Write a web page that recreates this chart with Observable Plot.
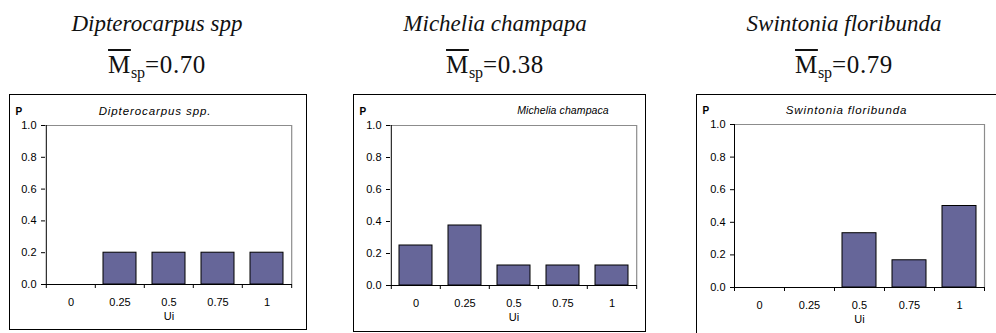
<!DOCTYPE html>
<html><head><meta charset="utf-8">
<script src="https://cdn.jsdelivr.net/npm/d3@7"></script>
<script src="https://cdn.jsdelivr.net/npm/@observablehq/plot@0.6"></script>
<style>
html,body{margin:0;padding:0;background:#fff;}
body{width:996px;height:333px;overflow:hidden;position:relative;font-family:"Liberation Sans",Arial,sans-serif;}
.t1{position:absolute;font-family:"Liberation Serif","Times New Roman","DejaVu Serif",serif;font-style:italic;font-size:23px;line-height:23px;text-align:center;white-space:nowrap;color:#111;}
.t2{position:absolute;font-family:"Liberation Serif","Times New Roman","DejaVu Serif",serif;font-size:25px;line-height:25px;text-align:center;white-space:nowrap;letter-spacing:0.6px;color:#111;}
.t2 .m{text-decoration:overline;text-decoration-thickness:1.5px;}
.t2 sub{font-size:16px;vertical-align:-5px;line-height:0;letter-spacing:0;}
</style></head><body>
<script>
// Data
const ui = ["0", "0.25", "0.5", "0.75", "1"];
const dipterocarpusP = [0, 0.2, 0.2, 0.2, 0.2];
const micheliaP = [0.25, 0.375, 0.125, 0.125, 0.125];
const swintoniaP = [0, 0, 0.333, 0.167, 0.5];
const yTicks = [0, 0.2, 0.4, 0.6, 0.8, 1.0];
const titles = ["Dipterocarpus spp", "Michelia champapa", "Swintonia floribunda"];
const meanM = ["0.70", "0.38", "0.79"];
const innerTitles = ["Dipterocarpus spp.", "Michelia champaca", "Swintonia floribunda"];
const series = [dipterocarpusP, micheliaP, swintoniaP];

// Layout
const layout = [
  {left: 9, top: 94, w: 296, h: 234, ml: 35, mr: 14, mt: 30, mb: 45, cx: 157, innerDx: -14, innerSize: 11.5, innerSpacing: 0.9},
  {left: 353, top: 94, w: 291, h: 236, ml: 36, mr: 8, mt: 30, mb: 46, cx: 495, innerDx: 49, innerSize: 10.5, innerSpacing: 0.1},
  {left: 696, top: 94, w: 305, h: 250, ml: 37, mr: 18, mt: 29, mb: 58, cx: 844, innerDx: -13, innerSize: 11.5, innerSpacing: 0.9}
];

const sansFont = "'Liberation Sans', Arial, Helvetica, sans-serif";

layout.forEach((L, k) => {
  const t1 = document.createElement("div");
  t1.className = "t1";
  t1.style.left = (L.cx - 150) + "px";
  t1.style.width = "300px";
  t1.style.top = "12px";
  t1.textContent = titles[k];
  document.body.appendChild(t1);

  const t2 = document.createElement("div");
  t2.className = "t2";
  t2.style.left = (L.cx - 150) + "px";
  t2.style.width = "300px";
  t2.style.top = "52px";
  t2.innerHTML = '<span class="m">M</span><sub>sp</sub>=' + meanM[k];
  document.body.appendChild(t2);

  const data = ui.map((u, i) => ({u, p: series[k][i]}));
  const pw = L.w - L.ml - L.mr;
  const step = pw / ui.length;

  const svg = Plot.plot({
    width: L.w, height: L.h,
    marginLeft: L.ml, marginRight: L.mr, marginTop: L.mt, marginBottom: L.mb,
    style: {fontFamily: sansFont, fontSize: "11px", color: "#000", background: "#fff", overflow: "visible"},
    x: {domain: ui, paddingInner: 0.33, paddingOuter: 0.165, label: null},
    y: {domain: [0, 1], label: null},
    marks: [
      Plot.ruleY([1], {stroke: "#8c8c8c", strokeWidth: 1.2}),
      Plot.ruleX([ui[ui.length - 1]], {x: d => d, y1: 0, y2: 1, dx: step / 2, stroke: "#8c8c8c", strokeWidth: 1.2}),
      Plot.barY(data, {x: "u", y: "p", fill: "#666699", stroke: "#000", strokeWidth: 1}),
      Plot.ruleY([0], {stroke: "#000", strokeWidth: 1}),
      Plot.ruleX([ui[0]], {x: d => d, y1: 0, y2: 1, dx: -step / 2, stroke: "#000", strokeWidth: 1}),
      Plot.axisY(yTicks, {tickSize: 4, tickPadding: 5, tickFormat: d3.format(".1f"), label: null, fontSize: 11}),
      Plot.axisX(ui, {tickSize: 4, tickFormat: () => "", dx: -step / 2, label: null}),
      Plot.axisX([ui[ui.length - 1]], {tickSize: 4, tickFormat: () => "", dx: step / 2, label: null}),
      Plot.axisX(ui, {tickSize: 0, tickPadding: 14, label: null, fontSize: 11}),
      Plot.text(["Ui"], {frameAnchor: "bottom", dy: 35, fontSize: 11}),
      Plot.text(["P"], {frameAnchor: "top-left", dx: -(L.ml - 5), dy: -18, textAnchor: "start", fontSize: 10, fontWeight: "bold"}),
      Plot.text([innerTitles[k]], {frameAnchor: "top", dx: L.innerDx, dy: -19, fontSize: L.innerSize, fontStyle: "italic"})
    ]
  });
  svg.style.position = "absolute";
  svg.style.left = L.left + "px";
  svg.style.top = L.top + "px";
  svg.style.border = "1px solid #000";
  svg.querySelectorAll("text").forEach(t => {
    if (t.textContent === innerTitles[k]) t.setAttribute("letter-spacing", L.innerSpacing + "px");
  });
  document.body.appendChild(svg);
});
</script>
</body></html>
